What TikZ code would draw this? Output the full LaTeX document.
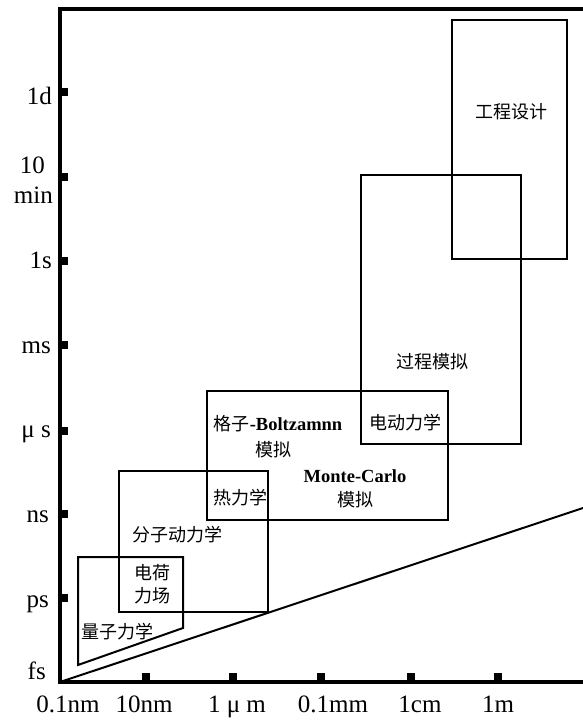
\documentclass[tikz,border=0pt]{standalone}
\usepackage{fontspec}
\setmainfont{Liberation Serif}
\newfontfamily\cjk{Noto Sans CJK SC}
\begin{document}
\begin{tikzpicture}[x=1pt,y=-1pt,
  axis/.style={line width=3.5pt, line join=miter},
  region/.style={draw, line width=2pt},
  ylab/.style={anchor=base east, font=\fontsize{25}{27}\selectfont, inner sep=0pt},
  xlab/.style={anchor=base, font=\fontsize{25}{27}\selectfont, inner sep=0pt},
  cn/.style={font=\fontsize{18}{22}\selectfont\cjk, inner sep=0pt, align=center},
  lat/.style={font=\fontsize{18.5}{22}\selectfont\bfseries, inner sep=0pt}]
\useasboundingbox (0,0) rectangle (583,723);
% axes
\coordinate (O) at (60,682);
\coordinate (TL) at (60,9);
\coordinate (TR) at (583,9);
\coordinate (BR) at (583,682);
\coordinate (D) at (583,508);
\draw[axis] (TR) -- (TL) -- (O) -- (BR);
\draw[line width=2pt] (O) -- (D);
% ticks
\foreach \y in {92,177,261,345,431,514,598}
  \fill (58,{\y-4}) rectangle (68,{\y+4});
\foreach \x in {146,233,321,411,498}
  \fill ({\x-4},673) rectangle ({\x+4},684);
% y labels
\node[ylab] (l1d) at (52,104) {1d};
\node[ylab] (l10) at (45,173) {10};
\node[ylab] (lmin) at (53,203) {min};
\node[ylab] (l1s) at (52,268) {1s};
\node[ylab] (lms) at (51,353) {ms};
\node[ylab] (lus) at (51,437) {μ s};
\node[ylab] (lns) at (49,522) {ns};
\node[ylab] (lps) at (49,607) {ps};
\node[ylab] (lfs) at (46,679) {fs};
% x labels
\node[xlab] (x1) at (68,712) {0.1nm};
\node[xlab] (x2) at (144,712) {10nm};
\node[xlab] (x3) at (237,712) {1 μ m};
\node[xlab] (x4) at (333,712) {0.1mm};
\node[xlab] (x5) at (420,712) {1cm};
\node[xlab] (x6) at (498,712) {1m};
% regions
\draw[region] (452,20) rectangle (567,259);
\draw[region] (361,175) rectangle (521,444);
\draw[region] (207,391) rectangle (448,520);
\draw[region] (119,471) rectangle (268,612);
\draw[region] (78,557) -- (183,557) -- (183,628) -- (78,665) -- cycle;
% region labels
\node[cn] (gc) at (511,112) {工程设计};
\node[cn] (gcmn) at (432,362) {过程模拟};
\node[cn] (ddlx) at (405,423) {电动力学};
\node[inner sep=0pt] (gz) at (278,424) {{\fontsize{18}{22}\selectfont\cjk 格子}{\fontsize{18.5}{22}\selectfont\bfseries -Boltzamnn}};
\node[cn] (gzmn) at (273,450) {模拟};
\node[lat] (mc) at (355,476) {Monte-Carlo};
\node[cn] (mcmn) at (355,500) {模拟};
\node[cn] (rlx) at (240,498) {热力学};
\node[cn] (fzdlx) at (177,535) {分子动力学};
\node[cn] (dh) at (152,573) {电荷};
\node[cn] (lc) at (152,596) {力场};
\node[cn] (lzlx) at (117,632) {量子力学};
\end{tikzpicture}
\end{document}
